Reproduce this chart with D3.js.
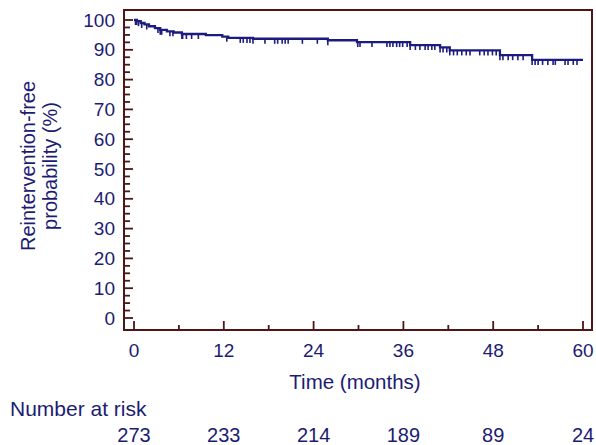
<!DOCTYPE html>
<html>
<head>
<meta charset="utf-8">
<script src="https://cdn.jsdelivr.net/npm/d3@7"></script>
<style>
  body { margin: 0; background: #fff; }
  text { font-family: "Liberation Sans", Arial, sans-serif; fill: #1c1c72; }
</style>
</head>
<body>
<div id="chart"></div>
<script>
// step points of the survival curve: [month, probability %]
const stepTimes = [0, 0.4, 0.9, 1.4, 2.0, 2.8, 3.5, 4.4, 5.3, 6.4, 9.6, 11.8, 12.6, 15.9, 25.9, 29.8, 36.9, 40.9, 42.2, 48.9, 53.2, 60];
const stepValues = [100, 99.6, 99.0, 98.5, 97.9, 97.3, 96.7, 96.2, 95.8, 95.3, 94.9, 94.4, 94.0, 93.7, 93.2, 92.6, 91.6, 90.8, 89.8, 88.2, 86.6, 86.6];

// censored observations (months)
const censorTimes = [0.2, 0.36, 0.6, 1.03, 1.7, 3.2, 3.5, 3.7, 4.8, 5.2, 6.4, 6.5, 7.0, 7.7, 8.6,
  12.4, 14.2, 14.6, 15.1, 15.5, 15.9, 17.5, 18.8, 19.2, 19.8, 20.2, 20.6, 22.5, 24.5, 25.9,
  29.9, 30.2, 31.8, 33.8, 34.2, 34.6, 35.1, 35.5, 35.9, 36.5, 36.9, 37.6, 38.2, 38.9, 39.3,
  39.8, 40.2, 40.9, 41.3, 41.8, 42.2, 42.7, 43.2, 43.8, 44.4, 44.9, 46.2, 46.8, 47.3, 47.9,
  48.4, 48.9, 49.3, 50.0, 50.6, 51.3, 52.0, 53.2, 53.6, 54.0, 54.6, 55.3, 56.0, 56.3, 57.6,
  58.0, 58.7, 59.2];

const xTicks = [0, 12, 24, 36, 48, 60];
const yTicks = [0, 10, 20, 30, 40, 50, 60, 70, 80, 90, 100];
const atRisk = [273, 233, 214, 189, 89, 24];

const width = 596, height = 445;
const axisColor = "#4e1616";
const lineColor = "#1c1c7e";

const svg = d3.select("#chart").append("svg")
  .attr("width", width)
  .attr("height", height);

const x = d3.scaleLinear().domain([0, 60]).range([134, 583]);
const y = d3.scaleLinear().domain([0, 100]).range([318, 20]);

// frame of the plot area
const frame = { left: 124, top: 10, right: 592, bottom: 330 };

svg.append("rect")
  .attr("x", frame.left)
  .attr("y", frame.top)
  .attr("width", frame.right - frame.left)
  .attr("height", frame.bottom - frame.top)
  .attr("fill", "none")
  .attr("stroke", axisColor)
  .attr("stroke-width", 2);

// y ticks every 2.5, longer at multiples of 10
const yMinor = d3.range(0, 100.1, 2.5);
svg.append("g")
  .selectAll("line")
  .data(yMinor)
  .enter()
  .append("line")
  .attr("x1", frame.left)
  .attr("x2", d => frame.left + (d % 10 === 0 ? 9 : 6))
  .attr("y1", d => y(d))
  .attr("y2", d => y(d))
  .attr("stroke", axisColor)
  .attr("stroke-width", 1.8);

svg.append("g")
  .selectAll("text")
  .data(yTicks)
  .enter()
  .append("text")
  .attr("x", 115)
  .attr("y", d => y(d))
  .attr("dy", "0.35em")
  .attr("text-anchor", "end")
  .style("font-size", "19px")
  .text(d => d);

// x ticks every 6 months, longer at multiples of 12
const xMinor = d3.range(0, 60.1, 6);
svg.append("g")
  .selectAll("line")
  .data(xMinor)
  .enter()
  .append("line")
  .attr("x1", d => x(d))
  .attr("x2", d => x(d))
  .attr("y1", frame.bottom)
  .attr("y2", d => frame.bottom - (d % 12 === 0 ? 9 : 5))
  .attr("stroke", axisColor)
  .attr("stroke-width", 1.8);

svg.append("g")
  .selectAll("text")
  .data(xTicks)
  .enter()
  .append("text")
  .attr("x", d => x(d))
  .attr("y", 357)
  .attr("text-anchor", "middle")
  .style("font-size", "19px")
  .text(d => d);

// axis titles
svg.append("text")
  .attr("x", 355)
  .attr("y", 389)
  .attr("text-anchor", "middle")
  .style("font-size", "20.5px")
  .text("Time (months)");

const yTitle = svg.append("text")
  .attr("transform", "translate(35,166) rotate(-90)")
  .attr("text-anchor", "middle")
  .style("font-size", "20px");
yTitle.append("tspan").attr("x", 0).attr("y", 0).text("Reintervention-free");
yTitle.append("tspan").attr("x", 0).attr("y", 22).text("probability (%)");

// number at risk
svg.append("text")
  .attr("x", 10)
  .attr("y", 416)
  .style("font-size", "21px")
  .text("Number at risk");

svg.append("g")
  .selectAll("text")
  .data(atRisk)
  .enter()
  .append("text")
  .attr("x", (d, i) => x(xTicks[i]))
  .attr("y", 442)
  .attr("text-anchor", "middle")
  .style("font-size", "20px")
  .text(d => d);

// survival curve
const steps = stepTimes.map((t, i) => ({ t: t, v: stepValues[i] }));
const line = d3.line()
  .x(d => x(d.t))
  .y(d => y(d.v))
  .curve(d3.curveStepAfter);

svg.append("path")
  .datum(steps)
  .attr("d", line)
  .attr("fill", "none")
  .attr("stroke", lineColor)
  .attr("stroke-width", 2.3);

// censor marks hanging below the curve
const bisect = d3.bisector(d => d.t).right;
const valueAt = t => steps[Math.max(0, bisect(steps, t) - 1)].v;

svg.append("g")
  .selectAll("line")
  .data(censorTimes)
  .enter()
  .append("line")
  .attr("x1", d => x(d))
  .attr("x2", d => x(d))
  .attr("y1", d => y(valueAt(d)))
  .attr("y2", d => y(valueAt(d)) + 5)
  .attr("stroke", lineColor)
  .attr("stroke-width", 1.6);
</script>
</body>
</html>
